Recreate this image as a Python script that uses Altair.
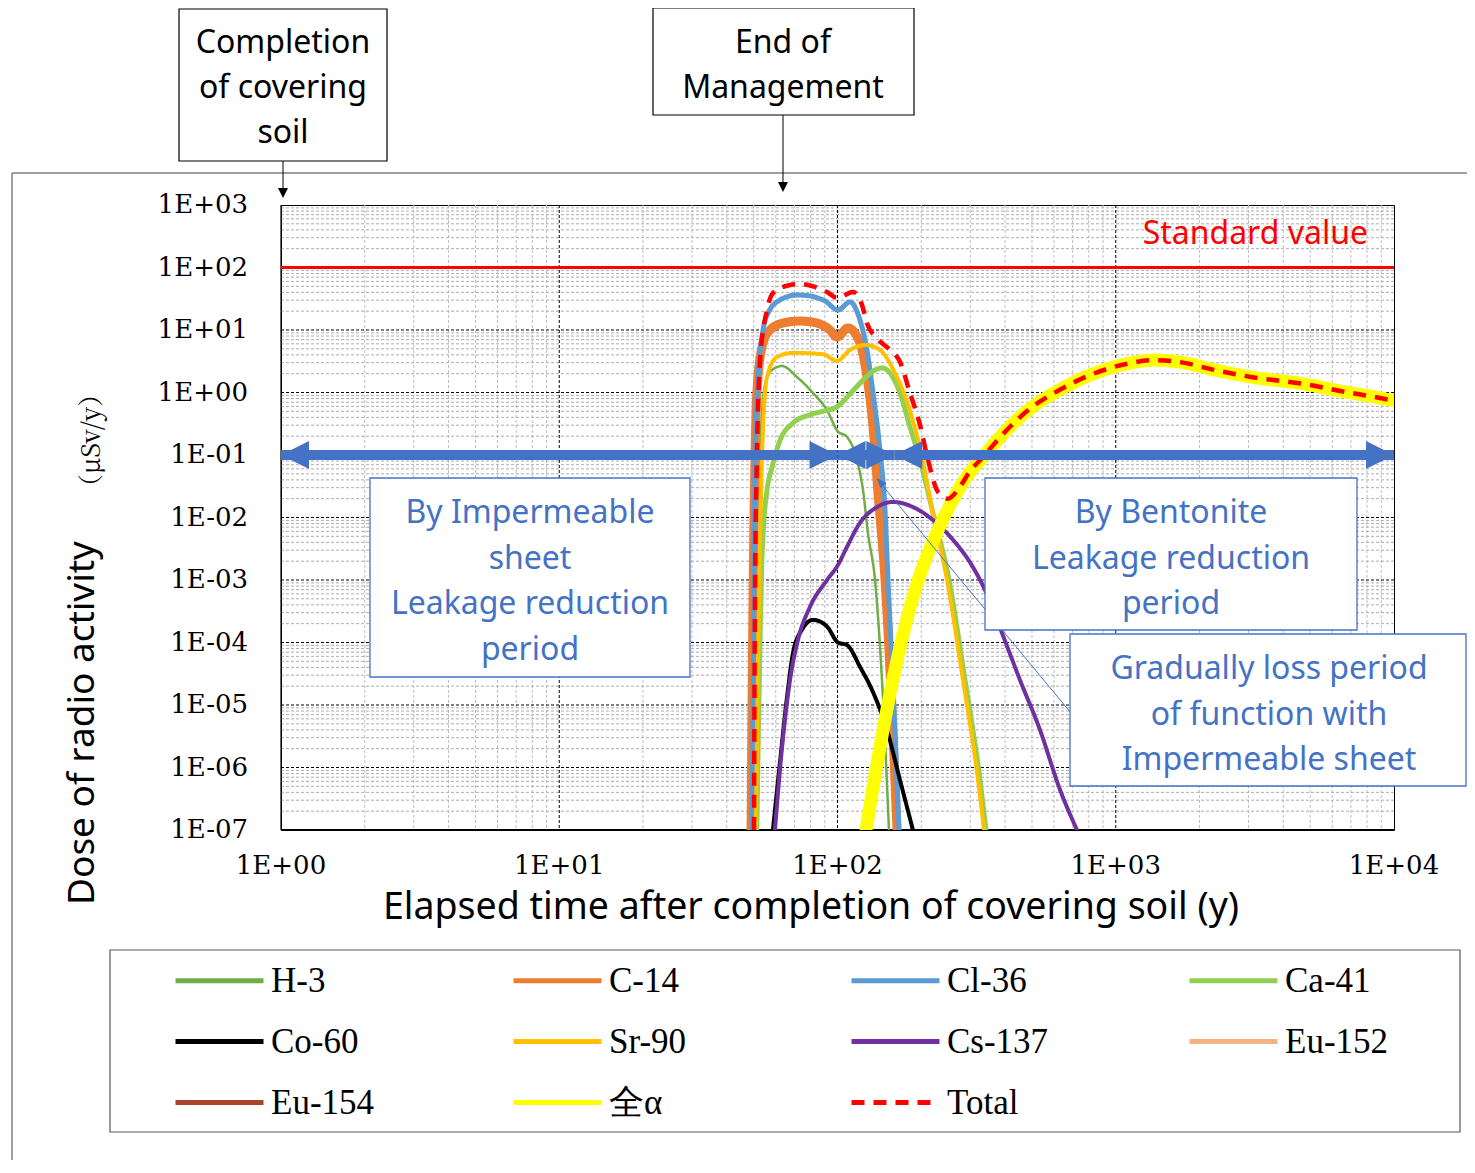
import altair as alt
import pandas as pd

# ---------------- data ----------------
nuclides = ["H-3", "C-14", "Cl-36", "Ca-41", "Co-60", "Sr-90", "Cs-137",
            "Eu-152", "Eu-154", "全α", "Total"]
colors = ["#70AD47", "#ED7D31", "#5B9BD5", "#92D050", "#000000", "#FFC000",
          "#7030A0", "#F4B183", "#A9432A", "#FFFF00", "#FF0000"]
line_widths = [2.5, 9, 5, 5, 4, 4, 4, 4, 4, 13, 4.5]
line_dashes = [[1, 0]] * 10 + [[13, 9]]

t_h3 = [49.7, 50.9, 52.7, 54.9, 58.2, 63.2, 71.5, 81.7, 91.7, 100, 108.2, 117.5, 123.5, 128.7, 136.4, 144.5, 153.1]
v_h3 = [1e-7, 4.8e-4, 0.12, 1.32, 2.3, 2.65, 1.77, 0.98, 0.52, 0.242, 0.194, 0.083, 0.0275, 5.6e-3, 1e-3, 2.5e-5, 1e-7]

t_c14 = [48.9, 49.7, 50.5, 51.3, 54.0, 57.2, 63.7, 73.3, 84.4, 94.0, 99.6, 109.1, 120.4, 127.6, 134.2, 139.8, 148.2, 157.0, 163.6]
v_c14 = [1e-7, 4.8e-4, 0.083, 0.98, 6.2, 10, 12.9, 13.9, 12.9, 10, 7.7, 10.8, 6.2, 1.77, 0.28, 0.025, 1e-3, 7.4e-6, 1e-7]

t_cl36 = [49.3, 50.1, 50.5, 51.8, 54.0, 56.3, 62.1, 71.5, 79.6, 90.2, 100.4, 110.9, 120.4, 127.6, 134.2, 142.1, 148.2, 151.9, 158, 166.3]
v_cl36 = [1e-7, 4.8e-4, 0.083, 1.58, 10, 18.7, 30.2, 36.3, 35, 29.1, 20.9, 28.1, 14.5, 4.8, 0.98, 0.12, 0.013, 1e-3, 2.5e-5, 1e-7]

t_ca41 = [51.3, 52.2, 53.5, 54.4, 55.8, 58.2, 62.1, 69.2, 79.6, 91.7, 99.6, 110.9, 123.5, 134.2, 144.5, 154.4, 167.7, 182.2, 198, 220.4, 251.6, 287.2, 325.2, 341.7]
v_ca41 = [1e-7, 1.2e-5, 2.1e-3, 9.1e-3, 0.0275, 0.064, 0.17, 0.325, 0.44, 0.52, 0.59, 0.95, 1.58, 2.2, 2.47, 2.05, 0.98, 0.28, 0.083, 0.0118, 1e-3, 2.5e-5, 6.3e-7, 1e-7]

t_co60 = [58.6, 62.1, 65.8, 69.2, 74.5, 81.7, 91.7, 100.4, 108.2, 120.4, 134.2, 150.6, 167.7, 186.7]
v_co60 = [1e-7, 1.2e-6, 1.3e-5, 6.8e-5, 1.6e-4, 2.3e-4, 1.8e-4, 1.0e-4, 9.1e-5, 4.1e-5, 1.6e-5, 4e-6, 6.3e-7, 1e-7]

t_sr90 = [50.9, 52.2, 53.5, 55.8, 60.6, 69.2, 88.7, 99.6, 110.9, 126.6, 142.1, 159.6, 183.7, 201.2, 220.4, 247.5, 282.5, 319.9, 336.1]
v_sr90 = [1e-7, 4.8e-4, 0.083, 1.77, 3.7, 4.3, 4.1, 3.2, 4.8, 5.75, 4.8, 2.2, 0.45, 0.093, 0.0114, 1e-3, 2.5e-5, 6.3e-7, 1e-7]

t_cs137 = [59.6, 63.2, 67.5, 72.1, 79.6, 91.7, 100.4, 108.2, 120.4, 138.7, 158.3, 186.7, 220.4, 260.0, 306.9, 339, 384, 452.9, 534.2, 630.5, 725.6]
v_cs137 = [1e-7, 2.1e-6, 2.5e-5, 1.1e-4, 3.7e-4, 1e-3, 1.74e-3, 3.4e-3, 8.2e-3, 0.0147, 0.0177, 0.0147, 9.1e-3, 4.4e-3, 1.6e-3, 6.9e-4, 1.7e-4, 2.5e-5, 4e-6, 4.4e-7, 1e-7]

# Eu-152 / Eu-154 stay below the plotted range (not visible in the figure)
t_eu152 = [50, 70, 100, 150]
v_eu152 = [1e-9, 4e-8, 3e-8, 1e-9]
t_eu154 = [50, 70, 100, 150]
v_eu154 = [1e-9, 3e-8, 2e-8, 1e-9]

t_alpha = [126.6, 142.1, 158, 186.7, 229.7, 247.5, 287.2, 333.4, 386.9, 449, 516.9, 600, 808, 1089, 1372, 1688, 2274, 3062, 4748, 6397, 8615, 10000]
v_alpha = [1e-7, 2.1e-6, 2.5e-5, 5.3e-4, 6.3e-3, 0.0127, 0.041, 0.093, 0.20, 0.39, 0.65, 0.98, 1.9, 2.86, 3.3, 3.08, 2.29, 1.77, 1.37, 1.06, 0.84, 0.74]

t_total = [50.1, 50.5, 51.3, 52.7, 55.8, 58.6, 67.5, 73.3, 83.0, 91.7, 100, 113.7, 122.5, 127.6, 138.7, 154.4, 167.7, 182.2, 198, 211.5, 229.7, 249.5, 271, 299.5, 333.4, 386.9, 449, 516.9, 600, 808, 1089, 1372, 1688, 2274, 3062, 4748, 6397, 8615, 10000]
v_total = [1e-7, 4.8e-4, 0.083, 3.3, 20.9, 39, 52.5, 54.5, 48.8, 40.6, 32.5, 40.6, 25.1, 12.9, 7.4, 4.8, 3.1, 0.98, 0.30, 0.083, 0.0256, 0.02, 0.028, 0.055, 0.093, 0.20, 0.39, 0.65, 0.98, 1.9, 2.86, 3.3, 3.08, 2.29, 1.77, 1.37, 1.06, 0.84, 0.74]

series = {
    "H-3": (t_h3, v_h3), "C-14": (t_c14, v_c14), "Cl-36": (t_cl36, v_cl36),
    "Ca-41": (t_ca41, v_ca41), "Co-60": (t_co60, v_co60), "Sr-90": (t_sr90, v_sr90),
    "Cs-137": (t_cs137, v_cs137), "Eu-152": (t_eu152, v_eu152), "Eu-154": (t_eu154, v_eu154),
    "全α": (t_alpha, v_alpha), "Total": (t_total, v_total),
}

x_tick_values = [1, 10, 100, 1000, 10000]
y_tick_values = [1e-7, 1e-6, 1e-5, 1e-4, 1e-3, 1e-2, 1e-1, 1, 10, 100, 1000]

standard_value = [100]
period_start = [1, 100, 160]
period_end = [100, 160, 10000]
period_level = 0.1

# grid positions (minor 2..9 of each decade, major at decades)
x_minor = [m * 10 ** d for d in range(4) for m in range(2, 10)]
x_major = [10, 100, 1000]
y_minor = [m * 10.0 ** d for d in range(-7, 3) for m in range(2, 10)]
y_major = [10.0 ** d for d in range(-6, 3)]

rows = []
for n in nuclides:
    for t, v in zip(*series[n]):
        rows.append({"nuclide": n, "t": t, "v": v})
curves_df = pd.DataFrame(rows)

# ---------------- chart ----------------
W, H = 1113, 625
OX, OY = 281, 205          # page position of plot origin (for annotations)
BLUE = "#4472C4"

xs = alt.Scale(type="log", domain=[1, 10000], nice=False)
ys = alt.Scale(type="log", domain=[1e-7, 1000], nice=False)


def sci(field):
    f = f"datum.{field}"
    e = f"abs(round(log({f}) / LN10))"
    return f"'1E' + ({f} >= 1 ? '+' : '-') + ({e} < 10 ? '0' : '') + {e}"


leg = alt.Legend(
    title=None, orient="none", direction="horizontal", legendX=-104, legendY=733, columns=4,
    columnPadding=128, rowPadding=0, gridAlign="all", symbolType="M-1.1,0L1.1,0", symbolSize=6400,
    symbolStrokeWidth=5, labelFont="Liberation Serif", labelFontSize=35, labelColor="black",
    labelOffset=9, labelLimit=0, padding=0,
)
color_scale = alt.Scale(domain=nuclides, range=colors)
dash_scale = alt.Scale(domain=nuclides, range=line_dashes)

X = lambda f: alt.X(f, scale=xs, axis=None)
Y = lambda f: alt.Y(f, scale=ys, axis=None)

layers = []

# grid
layers.append(alt.Chart(pd.DataFrame({"t": x_minor})).mark_rule(color="#BFBFBF", strokeWidth=1, strokeDash=[3, 2])
              .encode(x=X("t:Q")))
layers.append(alt.Chart(pd.DataFrame({"v": y_minor})).mark_rule(color="#ADADAD", strokeWidth=1, strokeDash=[3, 2])
              .encode(y=Y("v:Q")))
layers.append(alt.Chart(pd.DataFrame({"t": x_major})).mark_rule(color="black", strokeWidth=1, strokeDash=[3, 2])
              .encode(x=X("t:Q")))
layers.append(alt.Chart(pd.DataFrame({"v": y_major})).mark_rule(color="black", strokeWidth=1, strokeDash=[3, 2])
              .encode(y=Y("v:Q")))

# axis lines and tick labels (drawn through the scales)
layers.append(alt.Chart(pd.DataFrame({"v": [y_tick_values[0]]})).mark_rule(color="black", strokeWidth=2.2)
              .encode(y=Y("v:Q")))
layers.append(alt.Chart(pd.DataFrame({"t": [x_tick_values[0]]})).mark_rule(color="black", strokeWidth=1.2)
              .encode(x=X("t:Q")))
layers.append(alt.Chart(pd.DataFrame({"t": x_tick_values})).transform_calculate(lab=sci("t"))
              .mark_text(font="DejaVu Serif", fontSize=26, color="black", baseline="middle", align="center")
              .encode(x=X("t:Q"), y=alt.value(H + 36), text="lab:N"))
layers.append(alt.Chart(pd.DataFrame({"v": y_tick_values})).transform_calculate(lab=sci("v"))
              .mark_text(font="DejaVu Serif", fontSize=26, color="black", baseline="middle", align="right")
              .encode(y=Y("v:Q"), x=alt.value(-33), text="lab:N"))

# standard value line
layers.append(alt.Chart(pd.DataFrame({"v": standard_value})).mark_rule(color="#FF0000", strokeWidth=3)
              .encode(y=Y("v:Q")))

# curves
for i, n in enumerate(nuclides):
    is_total = n == "Total"
    mk = dict(clip=True, interpolate="monotone", strokeWidth=line_widths[i],
              strokeCap="butt" if is_total else "round", strokeJoin="round")
    layers.append(
        alt.Chart(curves_df).transform_filter(alt.datum.nuclide == n).mark_line(**mk).encode(
            x=X("t:Q"), y=Y("v:Q"),
            color=alt.Color("nuclide:N", scale=color_scale, legend=leg),
            strokeDash=alt.StrokeDash("nuclide:N", scale=dash_scale, legend=leg),
        )
    )

# period arrows
arrows_df = pd.DataFrame({"t": period_start, "t2": period_end, "v": [period_level] * len(period_start)})
layers.append(alt.Chart(arrows_df).mark_rule(color=BLUE, strokeWidth=10).encode(
    x=X("t:Q"), x2="t2:Q", y=Y("v:Q")))
layers.append(alt.Chart(arrows_df).mark_point(shape="M0,0L2,-1L2,1Z", filled=True, size=784, color=BLUE, opacity=1)
              .encode(x=X("t:Q"), y=Y("v:Q")))
layers.append(alt.Chart(arrows_df).mark_point(shape="M0,0L-2,-1L-2,1Z", filled=True, size=784, color=BLUE, opacity=1)
              .encode(x=X("t2:Q"), y=Y("v:Q")))

one = pd.DataFrame({"k": [0]})


def P(x, y):
    return x - OX, y - OY


def rule(x1, y1, x2, y2, color, sw):
    a, b = P(x1, y1)
    c, d = P(x2, y2)
    return alt.Chart(one).mark_rule(color=color, strokeWidth=sw).encode(
        x=alt.value(a), y=alt.value(b), x2=alt.value(c), y2=alt.value(d))


def box(x1, y1, x2, y2, stroke, sw=1.3):
    a, b = P(x1, y1)
    c, d = P(x2, y2)
    return alt.Chart(one).mark_rect(fill="white", stroke=stroke, strokeWidth=sw).encode(
        x=alt.value(a), y=alt.value(b), x2=alt.value(c), y2=alt.value(d))


def text(x, y, lines, size, color, font="Noto Sans", lh=45, align="center", baseline="middle", angle=0):
    a, b = P(x, y)
    mk = dict(text=lines, font=font, fontSize=size, color=color, lineHeight=lh, align=align, baseline=baseline)
    if angle:
        mk["angle"] = angle
    return alt.Chart(one).mark_text(**mk).encode(x=alt.value(a), y=alt.value(b))


def head(x, y, shape, size, color):
    a, b = P(x, y)
    return alt.Chart(one).mark_point(shape=shape, filled=True, size=size, color=color, opacity=1).encode(
        x=alt.value(a), y=alt.value(b))


# pointer from "Gradually loss" box
layers.append(rule(877, 479, 1071, 713, BLUE, 1))
layers.append(head(877, 478, "M0,0L1.89,1.03L0.66,2.05Z", 100, BLUE))

# text boxes inside the plot (y = centre of first line)
layers.append(box(370, 478, 690, 677, BLUE))
layers.append(text(530, 513, ["By Impermeable", "sheet", "Leakage reduction", "period"], 32, BLUE, lh=45.5))
layers.append(box(985, 478, 1357, 630, BLUE))
layers.append(text(1171, 513, ["By Bentonite", "Leakage reduction", "period"], 32, BLUE, lh=45.5))
layers.append(box(1070, 634, 1466, 786, BLUE))
layers.append(text(1269, 669, ["Gradually loss period", "of  function with", "Impermeable sheet"], 32, BLUE, lh=45.5))

layers.append(text(1368, 234, "Standard value", 32, "#FF0000", align="right"))

# outer frame
layers.append(rule(12, 173, 12, 1200, "#7F7F7F", 1.5))
layers.append(rule(12, 173, 1500, 173, "#7F7F7F", 1.5))

# callouts above the plot
layers.append(box(179, 9, 387, 161, "black", 1.2))
layers.append(text(283, 43, ["Completion", "of covering", "soil"], 32, "black", lh=45))
layers.append(rule(283, 161, 283, 192, "black", 1))
layers.append(head(283, 198, "M0,0L-1,-2L1,-2Z", 100, "black"))

layers.append(box(653, 8, 914, 115, "black", 1.2))
layers.append(text(783, 43, ["End of", "Management"], 32, "black", lh=45))
layers.append(rule(783, 115, 783, 186, "black", 1))
layers.append(head(783, 192, "M0,0L-1,-2L1,-2Z", 100, "black"))

# axis titles
layers.append(text(811, 908, "Elapsed time after completion of covering soil (y)", 37.5, "black"))
layers.append(text(94, 905, "Dose of radio activity", 37, "black", align="left", baseline="alphabetic", angle=270))
layers.append(text(100, 500, "（μSv/y）", 26, "black", font="Noto Serif CJK JP", align="left", baseline="alphabetic", angle=270))

# legend frame (legend itself drawn by Vega on top)
layers.append(box(110, 950, 1460, 1132, "#595959", 1.2))

chart = alt.layer(*layers).properties(
    width=W, height=H,
    padding={"left": OX - 8, "top": OY - 8, "right": 73, "bottom": 330},
    autosize=alt.AutoSizeParams(type="none"),
).configure_view(stroke="black", strokeWidth=1)

chart.save("out.html", embed_options={"renderer": "svg", "actions": False})
